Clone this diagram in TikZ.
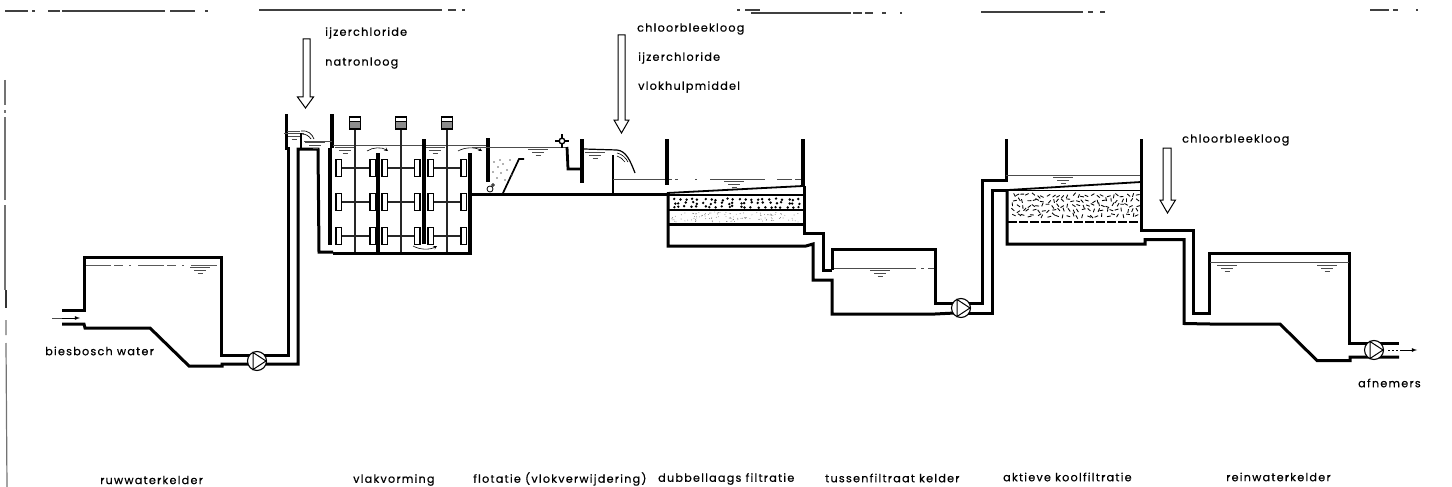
\documentclass[tikz,border=0pt]{standalone}
\usepackage{fontspec}
\setmainfont[LetterSpace=11,FakeBold=0.6]{Poppins}
\begin{document}
\begin{tikzpicture}[x=1pt,y=-1pt,
  pipe/.style={line width=3pt,line join=miter,black},
  wall/.style={line width=3.2pt,black},
  thinline/.style={line width=1.1pt,black!80},
  shaft/.style={line width=1.3pt,black!85},
  water/.style={line width=.9pt,black!70},
  brokenwater/.style={line width=.8pt,black!65,dash pattern=on 26pt off 3pt on 9pt off 6pt on 2pt off 7pt},
  dosearrow/.style={line width=1pt,black,fill=white,line join=miter},
  paddle/.style={line width=1.3pt,black,fill=white},
  label/.style={inner sep=0pt,anchor=west,font=\fontsize{11.2}{12}\selectfont},
  scan/.style={line width=1.2pt,black!75},
  bubble/.style={line width=.5pt,black!70}]
\useasboundingbox (0,0) rectangle (1452,487);
\newcommand{\wsym}[2]{%
  \draw[water] (#1-10,#2) -- (#1+10,#2);
  \draw[water] (#1-6,#2+3) -- (#1+6,#2+3);
  \draw[water] (#1-2.5,#2+6) -- (#1+2.5,#2+6);}
\newcommand{\pumpsym}[2]{%
  \draw[line width=1.1pt,fill=white] (#1,#2) circle (9.5);
  \draw[line width=1pt] (#1-4,#2-8.5) -- (#1+9,#2) -- (#1-4,#2+8.5) -- cycle;}
\newcommand{\paddlepair}[4]{% x1 x2 x3 y
  \draw[shaft] (#1+3,#3) -- (#2,#3);
  \draw[paddle] (#1,#3-8.5) rectangle (#1+5.5,#3+8.5);
  \draw[paddle] (#2,#3-8.5) rectangle (#2+5.5,#3+8.5);}

% scan remnants along top and left
\draw[scan] (5,11) -- (28,11) (32,11) -- (35,11) (48,11) -- (60,11) (62,11) -- (165,11) (170,11) -- (195,11) (205,11) -- (208,11);
\draw[scan] (259,10) -- (442,10) (448,10) -- (456,10) (462,10) -- (465,10);
\draw[scan] (737,10) -- (740,10) (745,10) -- (760,10);
\draw[scan] (751,13) -- (851,13) (853,13) -- (862,13) (865,13) -- (873,13) (882,13) -- (886,13) (900,13) -- (902,13);
\draw[scan] (981,12) -- (1083,12) (1088,12) -- (1093,12) (1100,12) -- (1105,12);
\draw[scan] (1370,10) -- (1389,10) (1393,10) -- (1398,10) (1416,10) -- (1418,10);
\draw[line width=1.2pt,black!55] (5,80) -- (5,105) (5,110) -- (5,113) (5,117) -- (5,200) (5,205) -- (5,290);
\draw[line width=1.2pt,black!55] (6,343) -- (7,487) (6,320) -- (6,335);
\draw[line width=2pt,black!80] (6,290) -- (6,308);

% raw water cellar
\draw[brokenwater] (85,265) -- (221,265);
\wsym{200}{267}
\draw[pipe] (62,310) -- (84,310) -- (84,257) -- (221,257) -- (221,355) -- (288,355) -- (288,148) -- (286,148) -- (286,114);
\draw[pipe] (62,324) -- (84,324) -- (85,328) -- (150,328) -- (189,366) -- (222,366) -- (222,364) -- (298,364) -- (298,149) -- (318,149) -- (319,252) -- (333,252);
\draw[water] (52,318) -- (70,318);
\draw[-latex,line width=.8pt] (62,318) -- (80,318);
\pumpsym{257}{361}

% inlet box
\draw[wall] (332,114) -- (332,148);
\draw[line width=4.5pt] (330,148) -- (330,245);
\draw[water] (287,131) -- (300,131);
\wsym{294}{133}
\draw[water] (304,141) -- (332,141);
\wsym{315}{142}
\draw[line width=2.4pt] (301,133) -- (301,149);
\draw[line width=.7pt] (301,131) .. controls (308,130) and (312,134) .. (314,139);
\draw[line width=.7pt] (302,134) .. controls (306,134) and (309,136) .. (311,139);

% flocculation
\draw[water] (333,145) -- (490,145);
\wsym{345}{147}
\wsym{435}{147}
\foreach \i/\xs in {1/355,2/401,3/447}{
  \draw[shaft] (\xs,125) -- (\xs,253);
  \draw[line width=1.2pt,fill=black!45] (\xs-5.5,117) rectangle (\xs+5.5,129);
  \draw[line width=1pt,fill=white] (\xs-5.5,117) rectangle (\xs+5.5,121);
}
\foreach \y in {168,202,236}{
  \paddlepair{336}{370}{\y}{}
  \paddlepair{382}{414.5}{\y}{}
  \paddlepair{428}{461}{\y}{}
}
\draw[wall] (378,153) -- (378,253);
\draw[wall] (424,139) -- (424,244);
\draw[wall] (470,153) -- (470,253);
\draw[pipe] (333,253) -- (472,253);
\draw[-stealth,line width=.6pt] (367,151) .. controls (373,147) and (382,147) .. (388,151);
\draw[-stealth,line width=.6pt] (458,151) .. controls (465,147) and (475,147) .. (482,151);
\draw[-stealth,line width=.6pt] (413,246) .. controls (420,250) and (430,250) .. (437,246);

% flotation
\draw[pipe] (469,194) -- (668,194);
\draw[wall] (488,138) -- (488,182);
\draw[water] (472,147) -- (567,147);
\wsym{538}{149}
\draw[line width=1.7pt] (503,193) -- (519,159) -- (524,159);
\draw[line width=.8pt] (490,189) circle (3);
\draw[line width=.8pt] (493,185) circle (1.4);
\foreach \a/\b in {494/162,500/160,498/167,503/164,493/172,501/173,507/170,497/178,505/180,510/160,512/175}{
  \fill[black!60] (\a,\b) circle (.8);
}
\draw[line width=2.8pt] (567,147) -- (568,169) -- (582,169);
\draw[wall] (582,139) -- (582,183);
\draw[line width=1pt,fill=white] (562,141) circle (3);
\draw[line width=1.2pt] (562,134) -- (562,148) (555,141) -- (569,141);
\draw[line width=1pt,fill=white] (562,141) circle (2.6);

% dosing weir
\draw[line width=1.2pt] (584,149) -- (617,150) .. controls (626,151) and (630,160) .. (635,173);
\wsym{595}{152}
\draw[line width=2.6pt] (613,155) -- (613,194);
\draw[line width=.6pt] (617,153) .. controls (622,154) and (626,158) .. (628,162);
\draw[line width=.6pt] (617,156) .. controls (620,157) and (623,159) .. (625,162);

% filter 1
\draw[water] (613,179.5) -- (672,179.5) (675,179.5) -- (678,179.5) (695,179.5) -- (697,179.5) (710,179.5) -- (765,179.5) (777,179.5) -- (792,179.5) (795,179.5) -- (803,179.5);
\wsym{734}{181}
\draw[wall] (667,139) -- (667,185);
\draw[wall] (803,139) -- (803,186);
\draw[line width=1.8pt] (667,193) -- (803,186);
\draw[line width=2.4pt] (668,195) -- (804,195);
\draw[line width=1.6pt] (669,210) -- (804,210);
\draw[line width=2.8pt] (669,224.5) -- (804,224.5);
\pgfmathsetseed{41}
\foreach \i in {0,...,21}{
 \foreach \j in {0,1,2}{
  \pgfmathsetmacro{\px}{672+\i*6+rnd*4}
  \pgfmathsetmacro{\py}{198.5+\j*3.6+rnd*2}
  \fill (\px,\py) circle (1.35);
 }
}
\foreach \k in {1,...,120}{
  \pgfmathsetmacro{\px}{671+rnd*131}
  \pgfmathsetmacro{\py}{212+rnd*10}
  \fill[black!55] (\px,\py) circle (.45);
}
\draw[pipe] (668,194) -- (668,246) -- (806,246) -- (813,244) -- (813,280) -- (832,280) -- (832,314) -- (935,314) -- (955,313);
\draw[pipe] (804,186) -- (804,233) -- (823,233) -- (823,270) -- (832,270);

% intermediate cellar
\draw[water] (832,268) -- (916,268) (921,268) -- (924,268) (928,268) -- (935,268);
\wsym{880}{270}
\draw[pipe] (832,270) -- (832,249) -- (935,249) -- (935,303) -- (982,303) -- (982,180) -- (1006,180) -- (1006,139);
\draw[pipe] (955,313) -- (992,313) -- (992,190) -- (1008,190);
\pumpsym{961}{308}

% filter 2
\draw[water] (1006,175) -- (1141,175);
\wsym{1063}{177.5}
\draw[line width=1.8pt] (1008,190) -- (1141,182);
\draw[line width=1.4pt] (1008,190.5) -- (1141,190.5);
\pgfmathsetseed{17}
\foreach \i in {0,...,25}{
 \foreach \j in {0,...,4}{
  \pgfmathsetmacro{\px}{1012+\i*4.95+rnd*3}
  \pgfmathsetmacro{\py}{194+\j*5+rnd*3}
  \pgfmathsetmacro{\pa}{rnd*180}
  \draw[line width=.85pt,rotate around={\pa:(\px,\py)}] (\px-1.9,\py) -- (\px+1.9,\py);
 }
}
\draw[line width=2pt,dash pattern=on 9pt off 2pt] (1008,221.5) -- (1141,221.5);
\draw[pipe] (1007,190) -- (1007,244) -- (1145,244) -- (1145,239.5) -- (1184,239.5) -- (1184,323.5) -- (1210,324) -- (1280,324) -- (1317,360.5) -- (1350,360.5) -- (1350,357) -- (1399,357);
\draw[pipe] (1141,139) -- (1141,230) -- (1193,230) -- (1193,313) -- (1209.5,313) -- (1209.5,253) -- (1349,253) -- (1349,343) -- (1399,343);

% clean water cellar
\draw[water] (1210,262) -- (1349,262);
\wsym{1227}{265}
\wsym{1327}{265}
\pumpsym{1374}{350}
\draw[line width=.8pt,dash pattern=on 2pt off 2pt] (1388,350) -- (1400,350);
\draw[-latex,line width=.8pt] (1400,350) -- (1417,350);

% dosing arrows
\draw[dosearrow] (303,39) -- (310,39) -- (310,97) -- (313.5,97) -- (305.5,108) -- (297.5,97) -- (303,97) -- cycle;
\draw[dosearrow] (618,35) -- (625,35) -- (625,120) -- (629,120) -- (621.5,133) -- (614,120) -- (618,120) -- cycle;
\draw[dosearrow] (1163,148) -- (1171,148) -- (1171,200) -- (1175.5,200) -- (1167.5,213) -- (1160,200) -- (1163,200) -- cycle;

% texts
\node[label] (t1) at (325,33) {ijzerchloride};
\node[label] (t2) at (325,63) {natronloog};
\node[label] (t3) at (637,29) {chloorbleekloog};
\node[label] (t4) at (638,58) {ijzerchloride};
\node[label] (t5) at (638,87) {vlokhulpmiddel};
\node[label] (t6) at (1182,140) {chloorbleekloog};
\node[label] (t7) at (45,351) {biesbosch water};
\node[label] (t8) at (1358,383) {afnemers};
\node[label] (b1) at (100,480) {ruwwaterkelder};
\node[label] (b2) at (353,480) {vlakvorming};
\node[label] (b3) at (473,479) {flotatie (vlokverwijdering)};
\node[label] (b4) at (658,479) {dubbellaags filtratie};
\node[label] (b5) at (825,478) {tussenfiltraat kelder};
\node[label] (b6) at (1003,477) {aktieve koolfiltratie};
\node[label] (b7) at (1226,477) {reinwaterkelder};
\end{tikzpicture}
\end{document}
